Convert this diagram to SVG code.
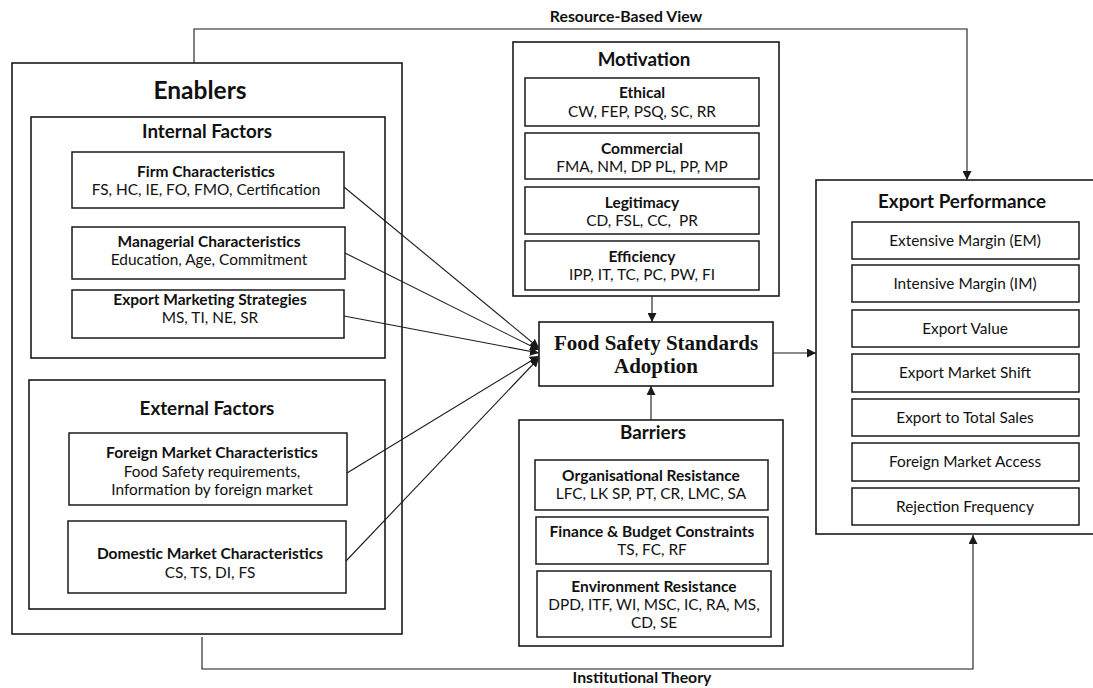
<svg xmlns="http://www.w3.org/2000/svg" width="1093" height="688" viewBox="0 0 1093 688">
<defs>
<style>
.box{fill:#fff;stroke:#1a1a1a;stroke-width:1.6}
.sub{fill:#fff;stroke:#1a1a1a;stroke-width:1.5}
.con{fill:none;stroke:#1a1a1a;stroke-width:1.1}
text{font-family:Lato,"Open Sans","Liberation Sans",sans-serif;fill:#111;text-anchor:middle}
.h1{font-size:24.5px;font-weight:bold}
.h2{font-size:18.8px;font-weight:bold}
.h3{font-size:15.5px;font-weight:bold}
.lb{font-size:15.8px;font-weight:bold}
.t{font-size:15.4px}
.fs{font-family:"Liberation Serif","Times New Roman",serif;font-size:21px;font-weight:bold}
</style>
<marker id="ah" viewBox="0 0 10 10" refX="10" refY="5" markerWidth="9" markerHeight="9" markerUnits="userSpaceOnUse" orient="auto">
<path d="M0,0 L10,5 L0,10 z" fill="#1a1a1a"/>
</marker>
</defs>
<rect width="1093" height="688" fill="#fff"/>

<g id="enablers">
<rect class="box" x="12" y="63" width="390" height="571"/>
<text class="h1" x="200" y="99">Enablers</text>
</g>
<g id="internal-factors">
<rect class="box" x="31" y="117" width="354" height="241"/>
<text class="h2" x="207" y="138">Internal Factors</text>
</g>
<g id="firm-characteristics">
<rect class="sub" x="72" y="152" width="272" height="56"/>
<text class="h3" x="206" y="177">Firm Characteristics</text>
<text class="t" x="206" y="195">FS, HC, IE, FO, FMO, Certification</text>
</g>
<g id="managerial-characteristics">
<rect class="sub" x="72" y="227" width="273" height="52"/>
<text class="h3" x="209" y="247">Managerial Characteristics</text>
<text class="t" x="209" y="265">Education, Age, Commitment</text>
</g>
<g id="export-marketing-strategies">
<rect class="sub" x="72" y="290" width="272" height="48"/>
<text class="h3" x="210" y="305">Export Marketing Strategies</text>
<text class="t" x="210" y="323">MS, TI, NE, SR</text>
</g>
<g id="external-factors">
<rect class="box" x="29" y="380" width="356" height="229"/>
<text class="h2" x="207" y="415">External Factors</text>
</g>
<g id="foreign-market">
<rect class="sub" x="69" y="433" width="278" height="72"/>
<text class="h3" x="212" y="458">Foreign Market Characteristics</text>
<text class="t" x="212" y="477">Food Safety requirements,</text>
<text class="t" x="212" y="495">Information by foreign market</text>
</g>
<g id="domestic-market">
<rect class="sub" x="68" y="521" width="278" height="72"/>
<text class="h3" x="210" y="559">Domestic Market Characteristics</text>
<text class="t" x="210" y="578">CS, TS, DI, FS</text>
</g>

<g id="motivation">
<rect class="box" x="513" y="42" width="266" height="254"/>
<text class="h2" x="644" y="66">Motivation</text>
</g>
<g id="ethical">
<rect class="sub" x="525" y="78" width="234" height="48"/>
<text class="h3" x="642" y="98">Ethical</text>
<text class="t" x="642" y="117">CW, FEP, PSQ, SC, RR</text>
</g>
<g id="commercial">
<rect class="sub" x="525" y="133" width="234" height="46"/>
<text class="h3" x="642" y="154">Commercial</text>
<text class="t" x="642" y="172">FMA, NM, DP PL, PP, MP</text>
</g>
<g id="legitimacy">
<rect class="sub" x="525" y="187" width="234" height="47"/>
<text class="h3" x="642" y="208">Legitimacy</text>
<text class="t" x="642" y="226" xml:space="preserve">CD, FSL, CC,  PR</text>
</g>
<g id="efficiency">
<rect class="sub" x="525" y="241" width="234" height="49"/>
<text class="h3" x="642" y="262">Efficiency</text>
<text class="t" x="642" y="280">IPP, IT, TC, PC, PW, FI</text>
</g>

<g id="fssa">
<rect class="box" x="539" y="322" width="234" height="64"/>
<text class="fs" x="656" y="350">Food Safety Standards</text>
<text class="fs" x="656" y="373">Adoption</text>
</g>

<g id="barriers">
<rect class="box" x="519" y="420" width="264" height="226"/>
<text class="h2" x="653" y="439">Barriers</text>
</g>
<g id="organisational-resistance">
<rect class="sub" x="535" y="460" width="233" height="50"/>
<text class="h3" x="651" y="481">Organisational Resistance</text>
<text class="t" x="651" y="499">LFC, LK SP, PT, CR, LMC, SA</text>
</g>
<g id="finance-budget">
<rect class="sub" x="536" y="517" width="232" height="47"/>
<text class="h3" x="652" y="537">Finance &amp; Budget Constraints</text>
<text class="t" x="652" y="555">TS, FC, RF</text>
</g>
<g id="environment-resistance">
<rect class="sub" x="537" y="571" width="234" height="66"/>
<text class="h3" x="654" y="592">Environment Resistance</text>
<text class="t" x="654" y="610">DPD, ITF, WI, MSC, IC, RA, MS,</text>
<text class="t" x="654" y="628">CD, SE</text>
</g>

<g id="export-performance">
<rect class="box" x="816" y="180" width="290" height="354"/>
<text class="h2" x="962" y="208">Export Performance</text>
</g>
<g id="ep-items">
<g id="extensive-margin"><rect class="sub" x="852" y="222" width="227" height="37"/><text class="t" x="965" y="246">Extensive Margin (EM)</text></g>
<g id="intensive-margin"><rect class="sub" x="852" y="265" width="227" height="37"/><text class="t" x="965" y="289">Intensive Margin (IM)</text></g>
<g id="export-value"><rect class="sub" x="852" y="310" width="227" height="37"/><text class="t" x="965" y="334">Export Value</text></g>
<g id="export-market-shift"><rect class="sub" x="852" y="354" width="227" height="38"/><text class="t" x="965" y="378">Export Market Shift</text></g>
<g id="export-total-sales"><rect class="sub" x="852" y="399" width="227" height="37"/><text class="t" x="965" y="423">Export to Total Sales</text></g>
<g id="foreign-market-access"><rect class="sub" x="852" y="443" width="227" height="38"/><text class="t" x="965" y="467">Foreign Market Access</text></g>
<g id="rejection-frequency"><rect class="sub" x="852" y="488" width="227" height="37"/><text class="t" x="965" y="512">Rejection Frequency</text></g>
</g>

<g id="connectors">
<path class="con" d="M194,63 V29 H967 V180" marker-end="url(#ah)"/>
<path class="con" d="M202,637 V669 H973 V535" marker-end="url(#ah)"/>
<path class="con" d="M652,296 V322" marker-end="url(#ah)"/>
<path class="con" d="M651,420 V386" marker-end="url(#ah)"/>
<path class="con" d="M773,353 H816" marker-end="url(#ah)"/>
<path class="con" d="M344,187 L539,348" marker-end="url(#ah)"/>
<path class="con" d="M345,253 L539,350" marker-end="url(#ah)"/>
<path class="con" d="M344,316 L539,353" marker-end="url(#ah)"/>
<path class="con" d="M347,473 L539,356" marker-end="url(#ah)"/>
<path class="con" d="M346,561 L539,358" marker-end="url(#ah)"/>
<text class="lb" x="626" y="22">Resource-Based View</text>
<text class="lb" x="642" y="683">Institutional Theory</text>
</g>
</svg>
